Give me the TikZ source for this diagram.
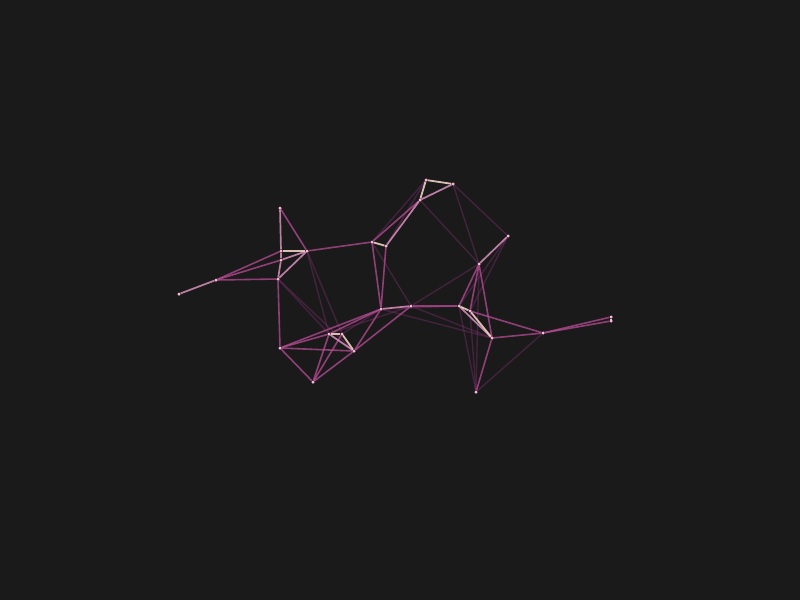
\documentclass[tikz,border=0pt]{standalone}
\usepackage{xcolor}
\usepackage{tikz}
\usetikzlibrary{positioning}
\definecolor{bgdark}{HTML}{1A1A1A}
\definecolor{hotedge}{HTML}{EED2C2}
\definecolor{warmedge}{HTML}{DA90BC}
\definecolor{midedge}{HTML}{B84C96}
\definecolor{dimedge}{HTML}{803070}
\definecolor{dotpink}{HTML}{F7B8D6}

\begin{document}
\begin{tikzpicture}[
  x=1pt, y=-1pt,
  vtx/.style={circle, fill=dotpink, inner sep=0pt, minimum size=3pt},
  hot/.style={draw=hotedge, line width=1.8pt, opacity=0.9},
  warm/.style={draw=warmedge, line width=1.7pt, opacity=0.85},
  mid/.style={draw=midedge, line width=1.6pt, opacity=0.75},
  dim/.style={draw=dimedge, line width=1.4pt, opacity=0.4}]
\fill[bgdark] (0,0) rectangle (800,600);
\useasboundingbox (0,0) rectangle (800,600);
\node[vtx] (A) at (280,208) {};
\node[vtx] (B) at (281,251) {};
\node[vtx] (C) at (307,251) {};
\node[vtx] (D) at (281,260) {};
\node[vtx] (E) at (278,279) {};
\node[vtx] (F) at (216,280) {};
\node[vtx] (G) at (179,294) {};
\node[vtx] (H) at (372,242) {};
\node[vtx] (I) at (386,246) {};
\node[vtx] (J) at (381,309) {};
\node[vtx] (K) at (329,334) {};
\node[vtx] (L) at (342,334) {};
\node[vtx] (M) at (354,351) {};
\node[vtx] (N) at (280,348) {};
\node[vtx] (O) at (313,382) {};
\node[vtx] (P) at (426,180) {};
\node[vtx] (Q) at (453,184) {};
\node[vtx] (R) at (420,200) {};
\node[vtx] (S) at (508,236) {};
\node[vtx] (T) at (479,264) {};
\node[vtx] (U) at (411,306) {};
\node[vtx] (V) at (459,306) {};
\node[vtx] (W) at (470,311) {};
\node[vtx] (X) at (492,338) {};
\node[vtx] (Y) at (543,333) {};
\node[vtx] (Za) at (611,317) {};
\node[vtx] (Zb) at (611,321) {};
\node[vtx] (AA) at (476,392) {};
\draw[dim] (H) -- (U);
\draw[dim] (H) -- (P);
\draw[dim] (I) -- (P);
\draw[dim] (Q) -- (S);
\draw[dim] (Q) -- (T);
\draw[dim] (R) -- (T);
\draw[dim] (U) -- (T);
\draw[dim] (U) -- (X);
\draw[dim] (V) -- (AA);
\draw[dim] (W) -- (AA);
\draw[dim] (T) -- (AA);
\draw[dim] (Y) -- (AA);
\draw[dim] (E) -- (K);
\draw[dim] (E) -- (M);
\draw[dim] (C) -- (K);
\draw[dim] (C) -- (L);
\draw[dim] (S) -- (V);
\draw[dim] (S) -- (W);
\draw[dim] (J) -- (X);
\draw[dim] (J) -- (V);
\draw[dim] (U) -- (K);
\draw[dim] (J) -- (L);
\draw[mid] (F) -- (B);
\draw[mid] (F) -- (D);
\draw[mid] (F) -- (E);
\draw[mid] (A) -- (C);
\draw[mid] (C) -- (H);
\draw[mid] (H) -- (J);
\draw[mid] (I) -- (J);
\draw[mid] (E) -- (N);
\draw[mid] (J) -- (N);
\draw[mid] (J) -- (K);
\draw[mid] (J) -- (M);
\draw[mid] (N) -- (O);
\draw[mid] (N) -- (K);
\draw[mid] (N) -- (M);
\draw[mid] (O) -- (K);
\draw[mid] (O) -- (L);
\draw[mid] (O) -- (M);
\draw[mid] (U) -- (V);
\draw[mid] (U) -- (M);
\draw[mid] (T) -- (V);
\draw[mid] (T) -- (W);
\draw[mid] (T) -- (X);
\draw[mid] (X) -- (Y);
\draw[mid] (Y) -- (Za);
\draw[mid] (Y) -- (Zb);
\draw[mid] (W) -- (Y);
\draw[mid] (X) -- (AA);
\draw[mid] (H) -- (R);
\draw[warm] (G) -- (F);
\draw[warm] (A) -- (B);
\draw[warm] (B) -- (D);
\draw[warm] (D) -- (E);
\draw[warm] (D) -- (C);
\draw[warm] (E) -- (C);
\draw[warm] (R) -- (Q);
\draw[warm] (S) -- (T);
\draw[warm] (I) -- (R);
\draw[warm] (K) -- (M);
\draw[warm] (V) -- (X);
\draw[warm] (J) -- (U);
\draw[hot] (B) -- (C);
\draw[hot] (H) -- (I);
\draw[hot] (P) -- (Q);
\draw[hot] (P) -- (R);
\draw[hot] (V) -- (W);
\draw[hot] (W) -- (X);
\draw[hot] (K) -- (L);
\draw[hot] (L) -- (M);
\draw[hot] (Za) -- (Zb);
\foreach \v in {A,B,C,D,E,F,G,H,I,J,K,L,M,N,O,P,Q,R,S,T,U,V,W,X,Y,Za,Zb,AA}
  \fill[dotpink] (\v) circle (1.5);
\end{tikzpicture}
\end{document}
